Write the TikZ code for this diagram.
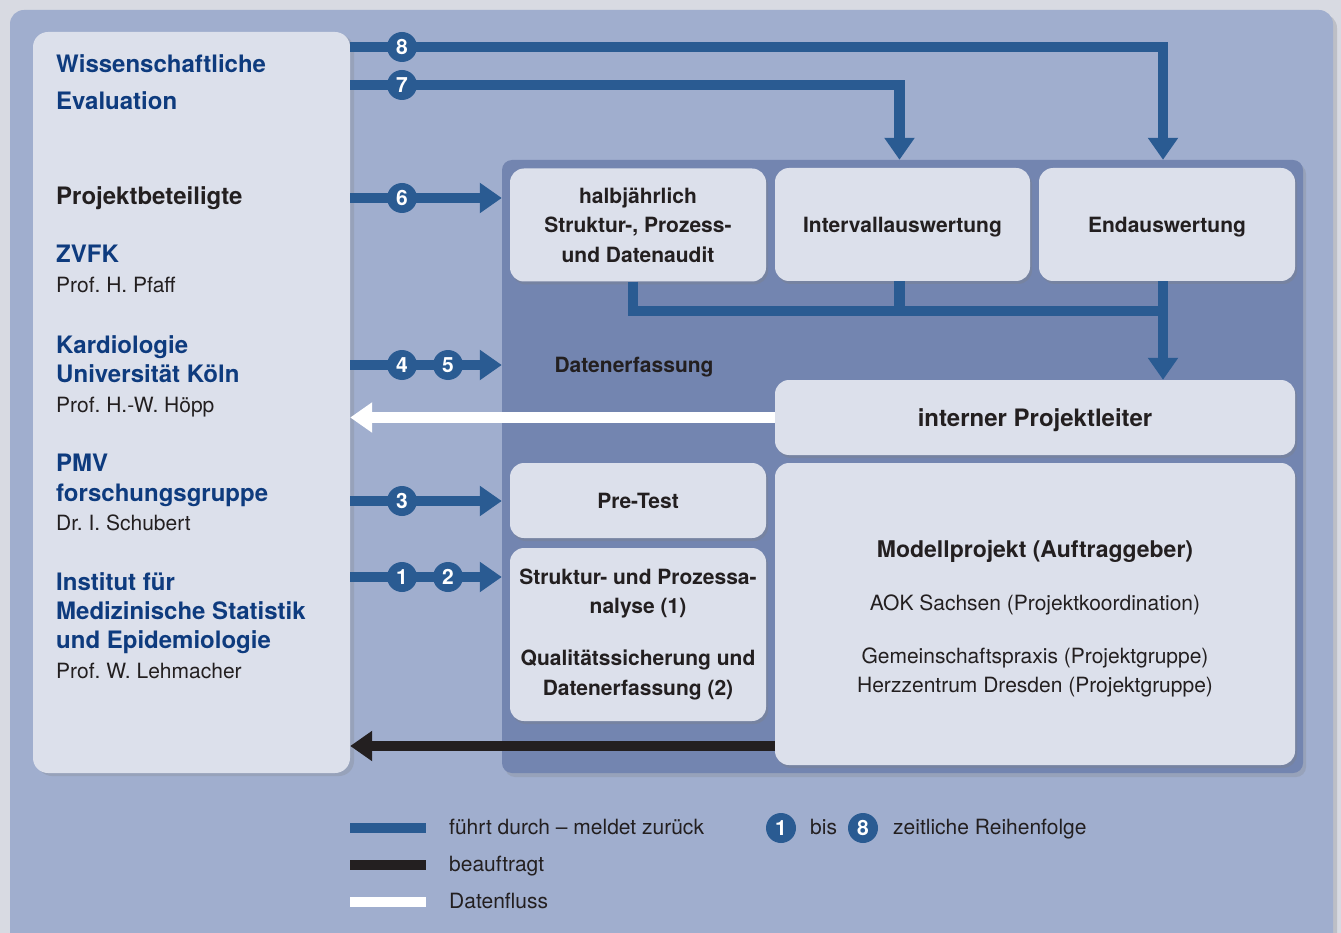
\documentclass[tikz,border=0pt]{standalone}
\usepackage{fontspec}
\setmainfont{TeX Gyre Heros}
\frenchspacing
\usetikzlibrary{arrows.meta,shadows,calc}
\definecolor{pagebg}{HTML}{D8DAE2}
\definecolor{panel}{HTML}{A0AECE}
\definecolor{innerpan}{HTML}{7385B0}
\definecolor{boxfill}{HTML}{DCE0EB}
\definecolor{cblue}{HTML}{2A5B92}
\definecolor{tblue}{HTML}{0E3B7E}
\definecolor{tblack}{HTML}{231F20}
\tikzset{
  box/.style={rectangle, rounded corners=14pt, fill=boxfill, inner sep=0pt, text=tblack, align=center,
    font=\bfseries\fontsize{21}{29.5}\selectfont,
    drop shadow={shadow xshift=2pt, shadow yshift=-3pt, opacity=0.3}},
  bluearr/.style={draw=cblue, line width=10.5pt, -{Triangle[width=29pt,length=22pt]}},
  blueline/.style={draw=cblue, line width=10.5pt},
  whitearr/.style={draw=white, line width=10.5pt, -{Triangle[width=29pt,length=22pt]}},
  blackarr/.style={draw=tblack, line width=10.5pt, -{Triangle[width=29pt,length=22pt]}},
  num/.style={circle, fill=cblue, text=white, minimum size=30pt, inner sep=0pt,
    font=\bfseries\fontsize{21}{21}\selectfont},
  lhead/.style={anchor=base west, inner sep=0pt, text=tblue, font=\bfseries\fontsize{24}{28}\selectfont},
  lblack/.style={anchor=base west, inner sep=0pt, text=tblack, font=\bfseries\fontsize{24}{28}\selectfont},
  lreg/.style={anchor=base west, inner sep=0pt, text=tblack, font=\fontsize{21}{25}\selectfont},
}
\begin{document}
\begin{tikzpicture}[x=1pt,y=-1pt]
\useasboundingbox (0,0) rectangle (1341,933);
\clip (0,0) rectangle (1341,933);
\fill[pagebg] (0,0) rectangle (1341,933);
\fill[black, opacity=0.12, rounded corners=14pt] (12,14) rectangle (1337,960);
\fill[panel, rounded corners=14pt] (10,10) rectangle (1333,960);

% inner dark panel
\node[rectangle, rounded corners=10pt, fill=innerpan, minimum width=801pt, minimum height=613pt, inner sep=0pt,
  drop shadow={shadow xshift=3pt, shadow yshift=-4pt, opacity=0.25}] (inner) at (902.5,466.5) {};

% left box
\node[rectangle, rounded corners=15pt, fill=boxfill, minimum width=317pt, minimum height=741pt, inner sep=0pt,
  drop shadow={shadow xshift=4pt, shadow yshift=-3pt, opacity=0.25}] (lb) at (191.5,402.5) {};

% boxes
\node[box, minimum width=256pt, minimum height=113pt] (halb) at (638,225) {halbjährlich\\Struktur-, Prozess-\\und Datenaudit};
\node[box, minimum width=255pt, minimum height=113pt, text depth=0pt] (intv) at (902.5,224.5) {Intervallauswertung};
\node[box, minimum width=256pt, minimum height=113pt, text depth=0pt] (endb) at (1167,224.5) {Endauswertung};
\node[box, minimum width=520pt, minimum height=75pt, text depth=0pt, font=\bfseries\fontsize{24}{28}\selectfont] (ipl) at (1035,417.5) {interner Projektleiter};
\node[box, minimum width=256pt, minimum height=75pt] (pret) at (638,500.5) {Pre-Test};
\node[box, minimum width=256pt, minimum height=173pt] (sp) at (638,634.5) {Struktur- und Prozessa-\\nalyse (1)\\[22.5pt]Qualitätssicherung und\\Datenerfassung (2)};
\node[box, minimum width=520pt, minimum height=302pt] (mp) at (1035,614) {};
\node[text=tblack, align=center, inner sep=0pt, font=\fontsize{21}{29}\selectfont] (mptext) at (1035,619)
  {{\bfseries\fontsize{23}{29}\selectfont Modellprojekt (Auftraggeber)}\\[24pt]AOK Sachsen (Projektkoordination)\\[24pt]Gemeinschaftspraxis (Projektgruppe)\\Herzzentrum Dresden (Projektgruppe)};

\node[text=tblack, text depth=0pt, font=\bfseries\fontsize{21}{25}\selectfont] (daten) at (634,365) {Datenerfassung};

% number circles (positions)
\coordinate (c8) at (402,47);
\coordinate (c7) at (402,85);
\coordinate (c6) at (402,198);
\coordinate (c4) at (402,365);
\coordinate (c3) at (402,501);
\coordinate (c1) at (402,577);
\coordinate (jn) at (1163,311);
\coordinate (bk) at (775,746);

% connectors
\draw[bluearr] (lb.east |- c8) -| ([xshift=-4pt]endb.north |- inner.north);
\draw[bluearr] (lb.east |- c7) -| ([xshift=-3pt]intv.north |- inner.north);
\draw[bluearr] (lb.east |- c6) -- (inner.west |- c6);
\draw[bluearr] (lb.east |- c4) -- (inner.west |- c4);
\draw[bluearr] (lb.east |- c3) -- (inner.west |- c3);
\draw[bluearr] (lb.east |- c1) -- (inner.west |- c1);
\draw[blueline] ([xshift=-5pt]halb.south) |- (jn);
\draw[blueline] ([xshift=-3pt]intv.south) -- ([xshift=-3pt]intv.south |- jn);
\draw[bluearr] ([xshift=-4pt]endb.south) -- ([xshift=-4pt]endb.south |- ipl.north);
\draw[whitearr] (ipl.west) -- (lb.east |- ipl.west);
\draw[blackarr] (bk) -- (lb.east |- bk);

\node[num] (n8) at (c8) {8};
\node[num] (n7) at (c7) {7};
\node[num] (n6) at (c6) {6};
\node[num] (n4) at (c4) {4};
\node[num] (n5) at (448,365) {5};
\node[num] (n3) at (c3) {3};
\node[num] (n1) at (c1) {1};
\node[num] (n2) at (448,577) {2};

% left texts
\node[lhead] (t1) at (56,73) {Wissenschaftliche};
\node[lhead] (t2) at (56,110) {Evaluation};
\node[lblack] (t3) at (56,205) {Projektbeteiligte};
\node[lhead] (t4) at (56,263) {ZVFK};
\node[lreg] (t5) at (56,293) {Prof. H. Pfaff};
\node[lhead] (t6) at (56,353) {Kardiologie};
\node[lhead] (t7) at (56,382) {Universität Köln};
\node[lreg] (t8) at (56,412) {Prof. H.-W. Höpp};
\node[lhead] (t9) at (56,471) {PMV};
\node[lhead] (t10) at (56,501) {forschungsgruppe};
\node[lreg] (t11) at (56,530) {Dr. I. Schubert};
\node[lhead] (t12) at (56,590) {Institut für};
\node[lhead] (t13) at (56,619) {Medizinische Statistik};
\node[lhead] (t14) at (56,648) {und Epidemiologie};
\node[lreg] (t15) at (56,678) {Prof. W. Lehmacher};

% legend
\draw[blueline] (350,828) -- (426,828);
\draw[draw=tblack, line width=10.5pt] (350,865) -- (426,865);
\draw[draw=white, line width=10.5pt] (350,902) -- (426,902);
\node[lreg] (g1) at (449,834) {führt durch – meldet zurück};
\node[lreg] (g2) at (449,871) {beauftragt};
\node[lreg] (g3) at (449,908) {Datenfluss};
\node[num] (l1) at (781,828) {1};
\node[lreg] (g4) at (810,834) {bis};
\node[num] (l8) at (863,828) {8};
\node[lreg] (g5) at (893,834) {zeitliche Reihenfolge};
\end{tikzpicture}
\end{document}
